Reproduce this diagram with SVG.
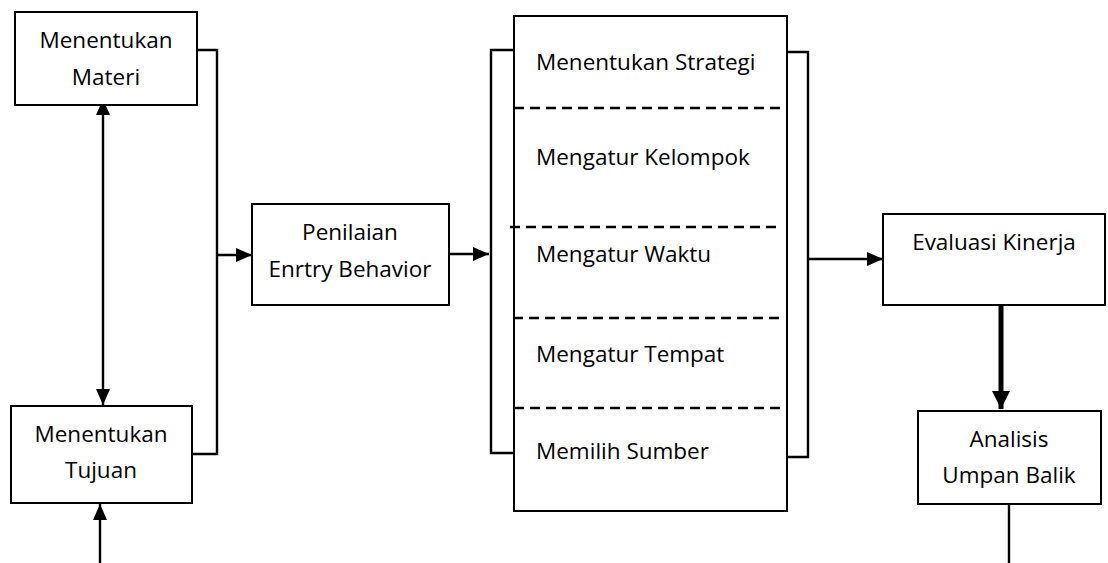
<svg xmlns="http://www.w3.org/2000/svg" width="1108" height="563" viewBox="0 0 1108 563">
  <style>
    .box { fill: #fff; stroke: #000; stroke-width: 2; }
    .ln { fill: none; stroke: #000; stroke-width: 2.4; }
    .dash { fill: none; stroke: #000; stroke-width: 2.4; stroke-dasharray: 10 6; }
    .t { font-family: "Open Sans", "Noto Sans", sans-serif; font-size: 22.5px; fill: #000; }
    .c { text-anchor: middle; }
  </style>
  <defs>
    <marker id="arr" viewBox="0 0 16 14" refX="16" refY="7" markerUnits="userSpaceOnUse" markerWidth="16" markerHeight="14" orient="auto-start-reverse">
      <path d="M0,0 L16,7 L0,14 Z" fill="#000"/>
    </marker>
    <marker id="arrBig" viewBox="0 0 18 18" refX="18" refY="9" markerUnits="userSpaceOnUse" markerWidth="18" markerHeight="18" orient="auto">
      <path d="M0,0 L18,9 L0,18 Z" fill="#000"/>
    </marker>
  </defs>

  <g id="connectors">
    <!-- two-way link between Materi and Tujuan -->
    <line class="ln" x1="103" y1="99" x2="103" y2="405" marker-start="url(#arr)" marker-end="url(#arr)"/>
    <!-- incoming line to Tujuan -->
    <line class="ln" x1="100" y1="563" x2="100" y2="504" marker-end="url(#arr)"/>
    <!-- bracket joining Materi and Tujuan -->
    <polyline class="ln" points="197,50 217,50 217,454 192,454"/>
    <line class="ln" x1="217" y1="255" x2="252" y2="255" marker-end="url(#arr)"/>
    <!-- to strategy column -->
    <line class="ln" x1="449" y1="254" x2="489" y2="254" marker-end="url(#arr)"/>
    <polyline class="ln" points="514,50 491,50 491,453 514,453"/>
    <!-- right bracket of strategy column -->
    <polyline class="ln" points="787,52 808,52 808,457 785,457"/>
    <line class="ln" x1="808" y1="259" x2="883" y2="259" marker-end="url(#arr)"/>
    <!-- evaluation to feedback analysis -->
    <line x1="1001" y1="305" x2="1001" y2="409" stroke="#000" stroke-width="5" marker-end="url(#arrBig)"/>
    <line class="ln" x1="1009" y1="504" x2="1009" y2="563"/>
  </g>

  <g id="materi">
    <rect class="box" x="15" y="12" width="182" height="93"/>
    <text class="t c" x="106" y="48">Menentukan</text>
    <text class="t c" x="106" y="85">Materi</text>
  </g>

  <g id="tujuan">
    <rect class="box" x="11" y="406" width="181" height="97"/>
    <text class="t c" x="101" y="442">Menentukan</text>
    <text class="t c" x="101" y="478">Tujuan</text>
  </g>

  <g id="penilaian">
    <rect class="box" x="252" y="204" width="197" height="101"/>
    <text class="t c" x="350" y="240">Penilaian</text>
    <text class="t c" x="350" y="277">Enrtry Behavior</text>
  </g>

  <g id="strategi">
    <rect class="box" x="514" y="16" width="273" height="495"/>
    <line class="dash" x1="514" y1="108" x2="787" y2="108"/>
    <line class="dash" x1="510" y1="227" x2="782" y2="227"/>
    <line class="dash" x1="513" y1="318" x2="785" y2="318"/>
    <line class="dash" x1="514" y1="408" x2="787" y2="408"/>
    <text class="t" x="536" y="70">Menentukan Strategi</text>
    <text class="t" x="536" y="165">Mengatur Kelompok</text>
    <text class="t" x="536" y="262">Mengatur Waktu</text>
    <text class="t" x="536" y="362">Mengatur Tempat</text>
    <text class="t" x="536" y="459">Memilih Sumber</text>
  </g>

  <g id="evaluasi">
    <rect class="box" x="883" y="214" width="222" height="91"/>
    <text class="t c" x="994" y="250">Evaluasi Kinerja</text>
  </g>

  <g id="analisis">
    <rect class="box" x="918" y="411" width="183" height="93"/>
    <text class="t c" x="1009" y="447">Analisis</text>
    <text class="t c" x="1009" y="483">Umpan Balik</text>
  </g>
</svg>
